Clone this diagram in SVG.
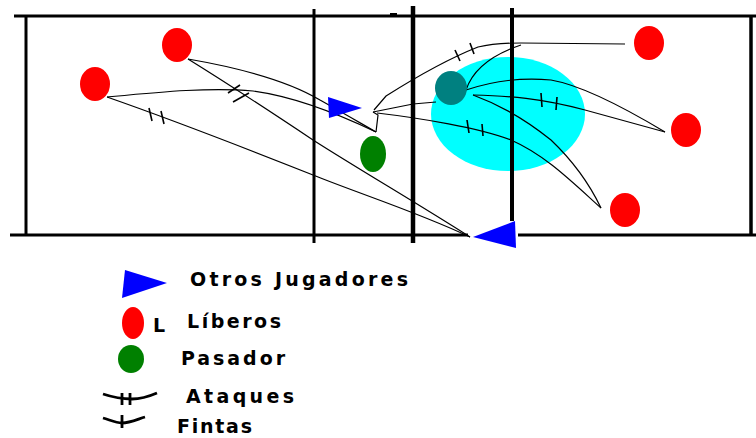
<svg xmlns="http://www.w3.org/2000/svg" width="756" height="438" viewBox="0 0 756 438">
<style>
.court{stroke:#000;fill:none;stroke-linecap:butt}
.traj{stroke:#000;fill:none;stroke-width:1.2}
.tick{stroke:#000;fill:none;stroke-width:1.6}
.leg{stroke:#000;fill:none;stroke-width:2.8}
.lib{fill:#ff0000}
.set{fill:#008000}
.oset{fill:#008080}
.oth{fill:#0000ff}
.lbl{font-family:"DejaVu Sans","Liberation Sans",Arial,sans-serif;font-weight:bold;font-size:19px;fill:#000}
</style>
<rect x="0" y="0" width="756" height="438" fill="#fff"/>
<g id="zone">
<ellipse cx="508" cy="114" rx="77" ry="57" fill="#00ffff"/>
</g>
<g id="court">
<line class="court" x1="14" y1="16" x2="756" y2="16" stroke-width="3"/>
<line class="court" x1="10" y1="235" x2="468" y2="235" stroke-width="3"/>
<line class="court" x1="518" y1="235" x2="756" y2="235" stroke-width="3"/>
<line class="court" x1="26" y1="16" x2="26" y2="236" stroke-width="3"/>
<line class="court" x1="751" y1="16" x2="751" y2="236" stroke-width="3.5"/>
<line class="court" x1="314" y1="9" x2="314" y2="243" stroke-width="3"/>
<line class="court" x1="413" y1="6" x2="413" y2="243" stroke-width="4.5"/>
<line class="court" x1="512" y1="8" x2="512" y2="221" stroke-width="4"/>
<line class="court" x1="390" y1="14" x2="397" y2="14" stroke-width="2"/>
</g>
<g id="connectors">
<path class="traj" d="M188,59 C240,68 290,82 320,100 C345,114 362,124 376,132"/>
<path class="traj" d="M107,97 C160,92 210,87 253,91 C290,96 330,110 376,132"/>
<path class="traj" d="M188,59 C230,85 280,118 313,140 C360,170 420,205 470,237"/>
<path class="traj" d="M107,97 C150,112 250,150 313,175 C360,194 420,213 470,237"/>
<path class="traj" d="M376,132 L378,115 L373,112"/>
<path class="traj" d="M373,112 L393,108 L413,104 L436,102"/>
<path class="traj" d="M377,113 C420,118 480,128 511,140 C545,155 570,180 601,208"/>
<path class="traj" d="M374,110 L386,96 C405,84 440,62 478,47 C495,43 510,43 521,43"/>
<path class="traj" d="M521,43 L625,44" stroke-width="2"/>
<path class="traj" d="M466,90 C472,72 488,56 521,45"/>
<path class="traj" d="M466,90 C490,82 520,77 551,80 C580,85 620,105 665,132"/>
<path class="traj" d="M473,95 C510,96 540,98 585,110 L665,132"/>
<path class="traj" d="M473,95 C495,103 520,115 551,140 C572,160 590,185 601,208"/>
<line class="tick" x1="149" y1="108" x2="152" y2="121"/>
<line class="tick" x1="161" y1="111" x2="164" y2="124"/>
<line class="tick" x1="228" y1="93" x2="240" y2="85"/>
<line class="tick" x1="233" y1="102" x2="249" y2="93"/>
<line class="tick" x1="455" y1="50" x2="460" y2="61"/>
<line class="tick" x1="470" y1="43" x2="474" y2="54"/>
<line class="tick" x1="541" y1="93" x2="542" y2="107"/>
<line class="tick" x1="557" y1="97" x2="556" y2="110"/>
<line class="tick" x1="467" y1="120" x2="469" y2="133"/>
<line class="tick" x1="482" y1="124" x2="483" y2="136"/>
</g>
<g id="libero1"><ellipse class="lib" cx="95" cy="84" rx="15" ry="17"/></g>
<g id="libero2"><ellipse class="lib" cx="177" cy="45" rx="15" ry="17"/></g>
<g id="libero3"><ellipse class="lib" cx="649" cy="43" rx="15" ry="17"/></g>
<g id="libero4"><ellipse class="lib" cx="686" cy="130" rx="15" ry="17"/></g>
<g id="libero5"><ellipse class="lib" cx="625" cy="210" rx="15" ry="17"/></g>
<g id="pasador"><ellipse class="set" cx="373" cy="154" rx="13" ry="18"/></g>
<g id="pasador2"><ellipse class="oset" cx="451" cy="88" rx="16" ry="17"/></g>
<g id="jugador1"><polygon class="oth" points="328,97 362,108 329,118"/></g>
<g id="jugador2"><polygon class="oth" points="473,237 515,221 516,248"/></g>
<g id="legend">
<polygon class="oth" points="125,270 167,283 122,298"/>
<text class="lbl" x="190" y="286" textLength="218" lengthAdjust="spacing">Otros Jugadores</text>
<ellipse class="lib" cx="133" cy="323" rx="11" ry="16"/>
<text class="lbl" x="153" y="332" font-size="16">L</text>
<text class="lbl" x="187" y="328" textLength="94" lengthAdjust="spacing">Líberos</text>
<ellipse class="set" cx="131" cy="359" rx="13" ry="14"/>
<text class="lbl" x="181" y="365" textLength="104" lengthAdjust="spacing">Pasador</text>
<path class="leg" d="M103,394 C112,397 122,399 132,399 C142,399 150,396 157,393"/>
<line class="leg" x1="122" y1="393" x2="122" y2="405"/>
<line class="leg" x1="130" y1="393" x2="130" y2="405"/>
<text class="lbl" x="186" y="403" textLength="108" lengthAdjust="spacing">Ataques</text>
<path class="leg" d="M103,418 C110,420 116,423 122,423 C130,423 138,419 145,417"/>
<line class="leg" x1="122" y1="415" x2="122" y2="428"/>
<text class="lbl" x="177" y="433" textLength="75" lengthAdjust="spacing">Fintas</text>
</g>
</svg>
